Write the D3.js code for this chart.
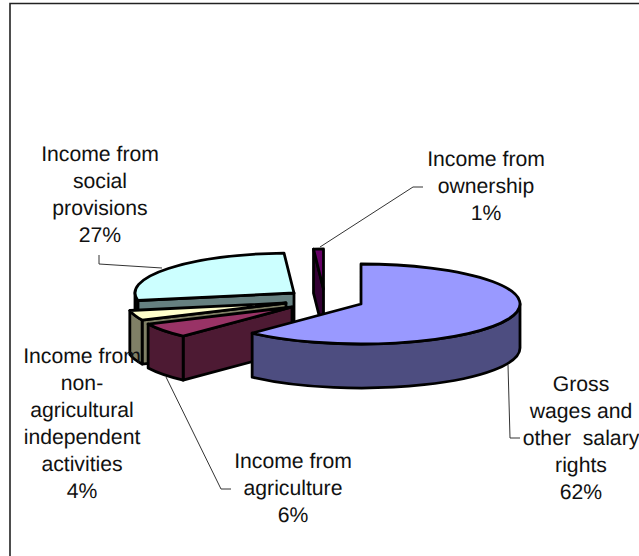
<!DOCTYPE html>
<html>
<head>
<meta charset="utf-8">
<script src="https://cdn.jsdelivr.net/npm/d3@7"></script>
<style>
  html, body { margin: 0; padding: 0; background: #fff; }
  svg { display: block; }
  text { font-family: "Liberation Sans", Arial, sans-serif; font-size: 21.2px; fill: #111; text-anchor: middle; text-rendering: geometricPrecision; }
</style>
</head>
<body>
<svg id="chart" width="639" height="556"></svg>
<script>
// Income structure of households, shares in percent (pie order, clockwise from 12 o'clock)
const categories = [
  "Gross wages and other salary rights",
  "Income from agriculture",
  "Income from non-agricultural independent activities",
  "Income from social provisions",
  "Income from ownership"
];
const shares = [62, 6, 4, 27, 1];
const topColours = ["#9999ff", "#993366", "#ffffcc", "#ccffff", "#660066"];
const sideColours = ["#4d4d80", "#4d1a33", "#808066", "#668080", "#330033"];

// Wrapped label lines for each category, the percentage is appended from the data
const labelLines = [
  ["Gross", "wages and", "other  salary", "rights"],
  ["Income from", "agriculture"],
  ["Income from", "non-", "agricultural", "independent", "activities"],
  ["Income from", "social", "provisions"],
  ["Income from", "ownership"]
];

// Layout of the tilted pie
const centre = { x: 322, y: 300 };
const radiusX = 159, radiusY = 40, depth = 44;
const sliceShift = [
  { dx: 39, dy: 4 }, { dx: -30, dy: 7 }, { dx: -36, dy: 3 }, { dx: -28, dy: -7 }, { dx: 1.5, dy: -11 }
];
const labelAnchors = [
  { x: 581, y: 391 }, { x: 293, y: 468 }, { x: 82, y: 363 }, { x: 100, y: 161 }, { x: 486, y: 166 }
];
const lineHeight = 27;
const leaders = [
  [[508, 365], [510, 438], [520, 438]],
  [[166, 377], [221, 489], [231, 489]],
  [],
  [[162, 268], [99, 264], [99, 255]],
  [[320, 247], [413, 187], [423, 187]]
];
// Painter's order, back of the pie to the front
const drawOrder = [3, 4, 2, 1, 0];

const svg = d3.select("#chart");

// Chart frame: only the top and left edges fall inside the canvas
const frame = [[10, 556], [10, 3.5], [639, 3.5]];
svg.append("path")
  .attr("d", d3.line()(frame))
  .attr("fill", "none").attr("stroke", "#222").attr("stroke-width", 1.6);

const slices = d3.pie().sort(null).value(d => d)(shares);

function point(a, cx, cy, drop) {
  return [cx + radiusX * Math.sin(a), cy - radiusY * Math.cos(a) + (drop || 0)];
}
function ellipseArc(a0, a1, to) {
  const large = Math.abs(a1 - a0) > Math.PI ? 1 : 0;
  const sweep = a1 > a0 ? 1 : 0;
  return `A${radiusX},${radiusY} 0 ${large} ${sweep} ${to[0]},${to[1]}`;
}

const marks = svg.append("g")
  .attr("stroke", "#000").attr("stroke-width", 2.8).attr("stroke-linejoin", "round");

drawOrder.forEach(i => {
  const s = slices[i];
  const cx = centre.x + sliceShift[i].dx;
  const cy = centre.y + sliceShift[i].dy;
  const a0 = s.startAngle, a1 = s.endAngle;
  const g = marks.append("g").attr("class", "slice");

  // Cut face along the leading radius, seen only when it starts on the left half
  if (Math.sin(a0) < 0) {
    const p = point(a0, cx, cy);
    g.append("path")
      .attr("fill", sideColours[i])
      .attr("d", `M${cx},${cy}L${p}L${p[0]},${p[1] + depth}L${cx},${cy + depth}Z`);
  }

  // Outer wall, the part of the rim facing the viewer
  const w0 = Math.max(a0, Math.PI / 2), w1 = Math.min(a1, 3 * Math.PI / 2);
  if (w1 > w0) {
    const t0 = point(w0, cx, cy), t1 = point(w1, cx, cy);
    const b0 = point(w0, cx, cy, depth), b1 = point(w1, cx, cy, depth);
    g.append("path")
      .attr("fill", sideColours[i])
      .attr("d", `M${t0}${ellipseArc(w0, w1, t1)}L${b1}${ellipseArc(w1, w0, b0)}Z`);
  }

  // Top surface
  const p0 = point(a0, cx, cy), p1 = point(a1, cx, cy);
  g.append("path")
    .attr("fill", topColours[i])
    .attr("d", `M${cx},${cy}L${p0}${ellipseArc(a0, a1, p1)}Z`);
});

// Leader lines
const leaderLine = d3.line();
svg.append("g").selectAll("path")
  .data(leaders.filter(l => l.length))
  .join("path")
  .attr("d", leaderLine)
  .attr("fill", "none").attr("stroke", "#333").attr("stroke-width", 1);

// Category labels with their percentage on the last line
const labels = svg.append("g").selectAll("text")
  .data(categories)
  .join("text")
  .attr("data-category", d => d)
  .attr("x", (d, i) => labelAnchors[i].x)
  .attr("y", (d, i) => labelAnchors[i].y);
labels.each(function (d, i) {
  const lines = labelLines[i].concat(`${shares[i]}%`);
  d3.select(this).selectAll("tspan")
    .data(lines)
    .join("tspan")
    .attr("x", labelAnchors[i].x)
    .attr("dy", (l, k) => (k === 0 ? 0 : lineHeight))
    .style("white-space", "pre")
    .text(l => l);
});
</script>
</body>
</html>
